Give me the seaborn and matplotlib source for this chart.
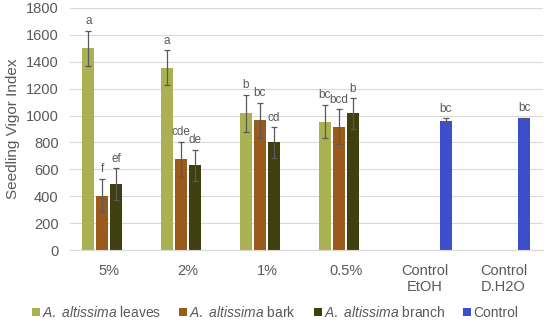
import pandas as pd
import seaborn as sns
import matplotlib.pyplot as plt

# data
categories = ["5%", "2%", "1%", "0.5%", "Control\nEtOH", "Control\nD.H2O"]
series = ["leaves", "bark", "branch", "Control"]

leaves = [1500, 1355, 1015, 955]
leaves_err = [130, 130, 140, 125]
leaves_sig = ["a", "a", "b", "bc"]

bark = [405, 675, 965, 915]
bark_err = [125, 130, 130, 130]
bark_sig = ["f", "cde", "bc", "bcd"]

branch = [490, 630, 800, 1015]
branch_err = [120, 115, 115, 115]
branch_sig = ["ef", "de", "cd", "b"]

control = [960, 978]
control_err = [18, 5]
control_sig = ["bc", "bc"]

colors = ["#A9B153", "#9A5A1C", "#3F3F10", "#3D4FCB"]

# long table, only existing bars
rows = []
for name, vals, errs, sigs, cats in [
    ("leaves", leaves, leaves_err, leaves_sig, categories[:4]),
    ("bark", bark, bark_err, bark_sig, categories[:4]),
    ("branch", branch, branch_err, branch_sig, categories[:4]),
    ("Control", control, control_err, control_sig, categories[4:]),
]:
    for c, v, e, s in zip(cats, vals, errs, sigs):
        rows.append({"cat": c, "series": name, "value": v, "err": e, "sig": s})
df = pd.DataFrame(rows)

plt.rcParams["font.family"] = ["Liberation Sans", "DejaVu Sans"]
plt.rcParams["mathtext.fontset"] = "custom"
plt.rcParams["mathtext.rm"] = "Liberation Sans"
plt.rcParams["mathtext.it"] = "Liberation Sans:italic"

fig = plt.figure(figsize=(5.5, 3.29), dpi=100)
ax = fig.add_axes([0.127, 0.24, 0.86, 0.736])

sns.barplot(data=df, x="cat", y="value", hue="series", order=categories,
            hue_order=series, palette=colors, width=0.71, gap=0.14,
            errorbar=None, ax=ax, saturation=1)

grey = "#595959"
for container, name in zip(ax.containers, series):
    sub = df[df["series"] == name].reset_index(drop=True)
    for bar, (_, r) in zip(container.patches, sub.iterrows()):
        xc = bar.get_x() + bar.get_width() / 2
        h = bar.get_height()
        ax.errorbar(xc, h, yerr=r["err"], fmt="none", ecolor=grey,
                    elinewidth=0.9, capsize=2.5, capthick=0.9, zorder=3)
        ax.text(xc, h + r["err"] + 25, r["sig"], ha="center", va="bottom",
                fontsize=8.5, color=grey)

ax.set_ylim(0, 1800)
ax.set_yticks(range(0, 1801, 200))
ax.set_xlim(-0.5, len(categories) - 0.5)
ax.grid(axis="y", color="#D9D9D9", linewidth=0.8)
ax.set_axisbelow(True)
for s in ["top", "right", "left"]:
    ax.spines[s].set_visible(False)
ax.spines["bottom"].set_color("#D9D9D9")
ax.tick_params(length=0, colors=grey, labelsize=10.5)
ax.tick_params(axis="y", pad=8)
ax.tick_params(axis="x", pad=10)
ax.set_xlabel("")
ax.set_ylabel("Seedling Vigor Index", fontsize=11, color=grey, labelpad=4)

handles, _ = ax.get_legend_handles_labels()
ax.get_legend().remove()
labels = [r"$\mathit{A.\ altissima}$ leaves", r"$\mathit{A.\ altissima}$ bark",
          r"$\mathit{A.\ altissima}$ branch", "Control"]
fig.legend(handles, labels, loc="lower center", bbox_to_anchor=(0.5, -0.01),
           ncol=4, frameon=False, fontsize=10, handlelength=0.55,
           handleheight=0.55, handletextpad=0.15, columnspacing=1.3,
           labelcolor=grey)

fig.savefig("out.png", dpi=100)
